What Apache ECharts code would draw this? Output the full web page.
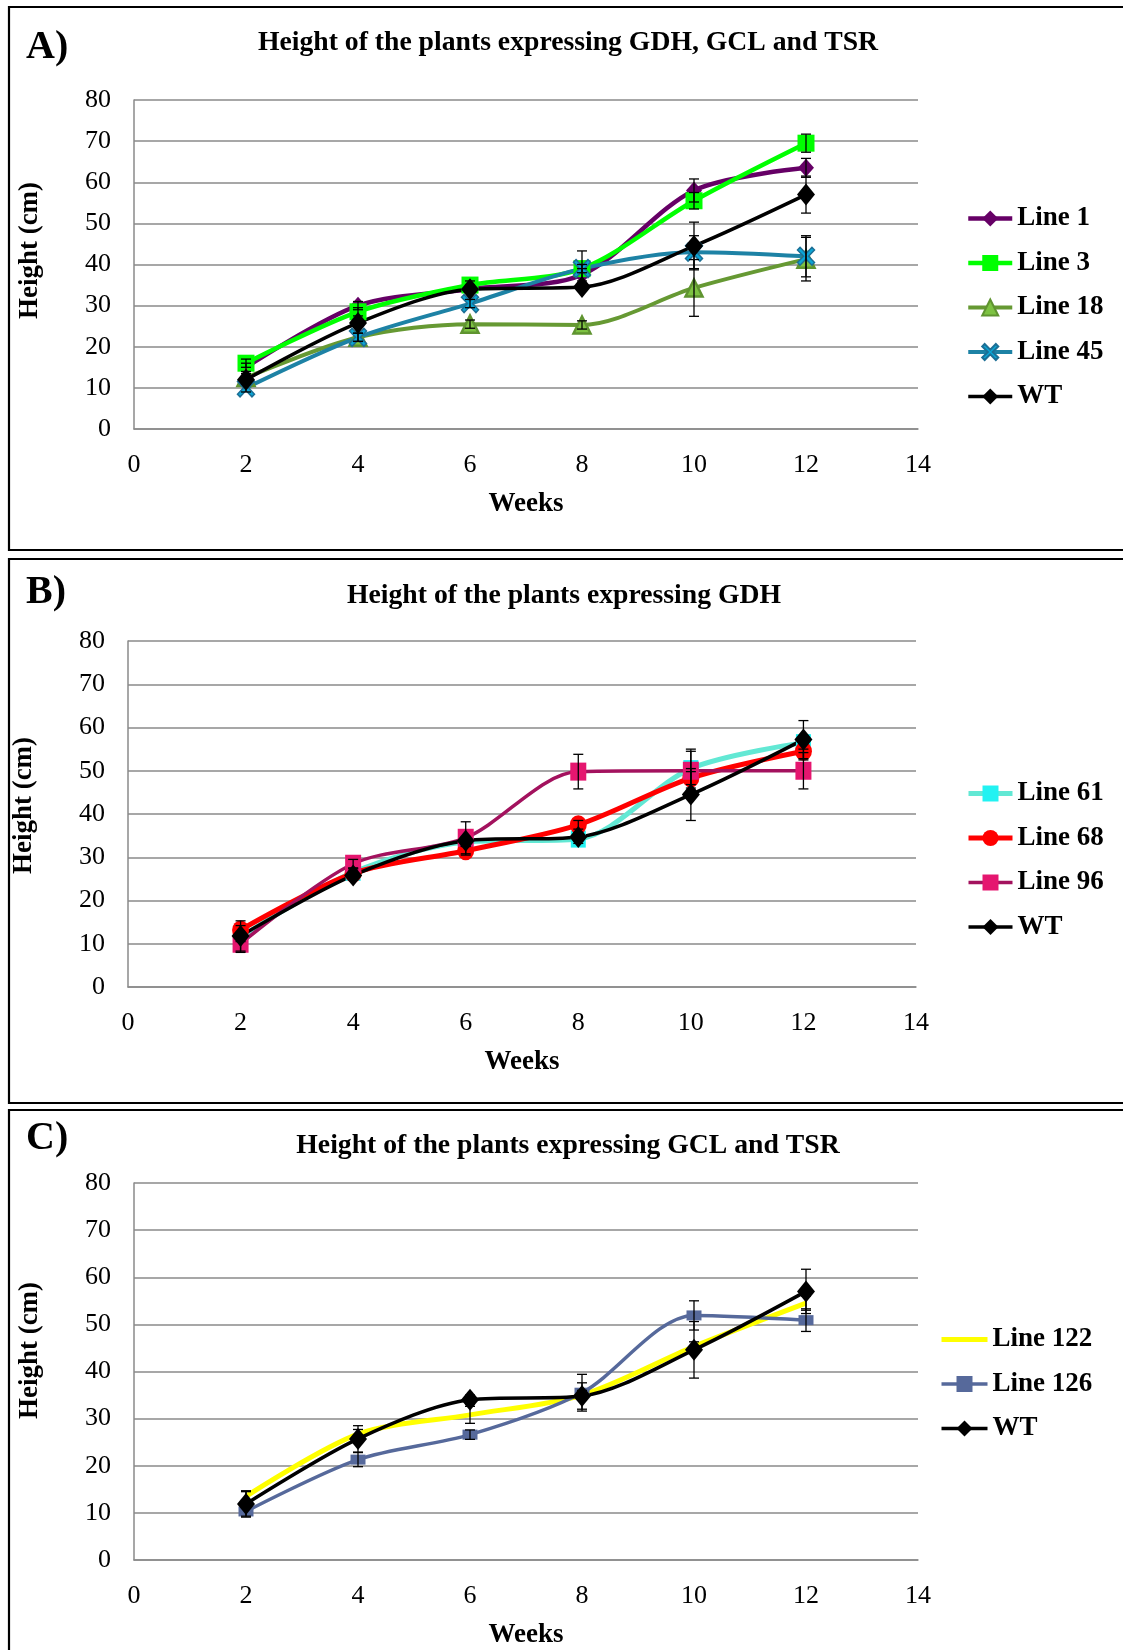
<!DOCTYPE html>
<html>
<head>
<meta charset="utf-8">
<script src="https://cdn.jsdelivr.net/npm/echarts@6/dist/echarts.min.js"></script>
<style>
  html, body { margin: 0; padding: 0; background: #fff; }
  #chart { width: 1123px; height: 1650px; }
</style>
</head>
<body>
<div id="chart"></div>
<script>
// Sampling weeks and axis ranges
const weeks = [2, 4, 6, 8, 10, 12];
const weekMin = 0, weekMax = 14, weekStep = 2;
const heightMin = 0, heightMax = 80, heightStep = 10;

// Panel A: GDH, GCL and TSR lines
const aLine1 = [15, 30, 34, 37.5, 58, 63.5];
const aLine1Err = [1, 1, 1, 1.5, 2.8, 2.3];
const aLine3 = [16, 28.5, 35, 39, 55.5, 69.5];
const aLine3Err = [1, 1, 1, 1, 2, 2.2];
const aLine18 = [12.5, 22.3, 25.5, 25.3, 34.3, 41.3];
const aLine18Err = [1, 1, 1, 1, 6.9, 5.3];
const aLine45 = [10, 22.3, 30.5, 39, 43, 42];
const aLine45Err = [1, 1, 1, 4.3, 4, 5];
const aWT = [12, 25.8, 34, 34.5, 44.5, 57];
const aWTErr = [1, 1, 1, 1, 5.8, 4.5];

// Panel B: GDH lines
const bLine61 = [11.5, 26.5, 33.5, 34.2, 50.5, 56.5];
const bLine61Err = [1, 1, 1, 1, 4.5, 1.5];
const bLine68 = [13.2, 26.3, 31.5, 37.5, 48.3, 54.5];
const bLine68Err = [1, 1, 1, 1, 1.5, 2];
const bLine96 = [10, 28.5, 34.5, 49.8, 50, 50];
const bLine96Err = [2, 1, 3.7, 4, 4.5, 4.2];
const bWT = [11.8, 25.8, 33.8, 34.7, 44.5, 57.2];
const bWTErr = [3.5, 1, 1, 1, 6, 4.4];

// Panel C: GCL and TSR lines
const cLine122 = [13.5, 26.7, 30.8, 35, 45.3, 54.5];
const cLine122Err = [1, 1, 1.8, 1, 1, 1.5];
const cLine126 = [10.3, 21.3, 26.6, 35.5, 51.9, 50.9];
const cLine126Err = [1, 1.5, 1, 3.9, 3.1, 2.4];
const cWT = [11.9, 25.7, 34, 34.8, 44.6, 57];
const cWTErr = [2.8, 2.8, 1, 2.8, 6, 4.7];

const panelLetters = ['A)', 'B)', 'C)'];
const panelTitles = [
  'Height of the plants expressing GDH, GCL and TSR',
  'Height of the plants expressing GDH',
  'Height of the plants expressing GCL and TSR'
];
const xAxisName = 'Weeks';
const yAxisName = 'Height (cm)';

const SERIF = '"Liberation Serif", "Times New Roman", serif';
// bold cross marker
const X_SHAPE = 'path://M3,0 L10,7 L17,0 L20,3 L13,10 L20,17 L17,20 L10,13 L3,20 L0,17 L7,10 L0,3 Z';
// flat bar marker
const BAR_SHAPE = 'path://M0,0 H16 V9 H0 Z';

function pairs(vals) { return weeks.map((w, i) => [w, vals[i]]); }
function errPairs(vals, errs) { return weeks.map((w, i) => [w, vals[i] - errs[i], vals[i] + errs[i]]); }

function lineSeries(name, gi, vals, opt) {
  return {
    type: 'line', name: name, xAxisIndex: gi, yAxisIndex: gi,
    data: pairs(vals), smooth: 0.3,
    symbol: opt.symbol, symbolSize: opt.size,
    lineStyle: { color: opt.line, width: opt.width || 4 },
    itemStyle: { color: opt.fill, borderColor: opt.border || opt.fill, borderWidth: opt.borderWidth || 0 },
    emphasis: { disabled: true },
    animation: false, z: 3
  };
}

function errorSeries(gi, vals, errs) {
  return {
    type: 'custom', xAxisIndex: gi, yAxisIndex: gi,
    data: errPairs(vals, errs),
    encode: { x: 0, y: [1, 2] },
    silent: true, animation: false, z: 6,
    renderItem: function (params, api) {
      const x = api.value(0);
      const lo = api.coord([x, api.value(1)]);
      const hi = api.coord([x, api.value(2)]);
      const cap = 5;
      const st = { stroke: '#000', lineWidth: 1.3 };
      return {
        type: 'group',
        children: [
          { type: 'line', shape: { x1: hi[0], y1: hi[1], x2: lo[0], y2: lo[1] }, style: st },
          { type: 'line', shape: { x1: hi[0] - cap, y1: hi[1], x2: hi[0] + cap, y2: hi[1] }, style: st },
          { type: 'line', shape: { x1: lo[0] - cap, y1: lo[1], x2: lo[0] + cap, y2: lo[1] }, style: st }
        ]
      };
    }
  };
}

const wtStyle = { symbol: 'diamond', size: [18, 22], line: '#000', fill: '#000', width: 3.5 };

// Plot rectangles of the three panels
const grids = [
  { left: 134, top: 100, width: 784, height: 329 },
  { left: 128, top: 641, width: 788, height: 346 },
  { left: 134, top: 1183, width: 784, height: 381 }
];
// shifts the rotated axis title along the axis
const yNamePad = [28, 17, 42];

const axisText = { color: '#000', fontFamily: SERIF, fontSize: 26 };
const nameText = { color: '#000', fontFamily: SERIF, fontSize: 27, fontWeight: 'bold' };

const xAxes = grids.map((g, i) => ({
  type: 'value', gridIndex: i, min: weekMin, max: weekMax, interval: weekStep,
  name: xAxisName, nameLocation: 'middle', nameGap: 62, nameTextStyle: nameText,
  axisLine: { show: true, lineStyle: { color: '#8a8a8a', width: 1.5 } },
  axisTick: { show: false },
  axisLabel: Object.assign({ margin: 23 }, axisText),
  splitLine: { show: false }
}));

const yAxes = grids.map((g, i) => ({
  type: 'value', gridIndex: i, min: heightMin, max: heightMax, interval: heightStep,
  name: yAxisName, nameLocation: 'middle', nameGap: 90, nameRotate: 90,
  nameTextStyle: Object.assign({ padding: [0, 0, 0, yNamePad[i]] }, nameText),
  axisLine: { show: true, lineStyle: { color: '#8a8a8a', width: 1.5 } },
  axisTick: { show: false },
  axisLabel: Object.assign({ margin: 23 }, axisText),
  splitLine: { show: true, lineStyle: { color: '#8a8a8a', width: 1.5 } }
}));

const series = [
  lineSeries('Line 1', 0, aLine1, { symbol: 'diamond', size: [16, 18], line: '#660066', fill: '#660066', width: 4.5 }),
  lineSeries('Line 3', 0, aLine3, { symbol: 'rect', size: [17, 17], line: '#00ff00', fill: '#00ff00', width: 4.5 }),
  lineSeries('Line 18', 0, aLine18, { symbol: 'triangle', size: [17, 17], line: '#669933', fill: '#7dc242', border: '#5f9430', borderWidth: 2.5 }),
  lineSeries('Line 45', 0, aLine45, { symbol: X_SHAPE, size: [17, 18], line: '#1d82a5', fill: '#0aa6d6', border: '#1d6f95', borderWidth: 1.5 }),
  lineSeries('WT', 0, aWT, wtStyle),
  errorSeries(0, aLine1, aLine1Err),
  errorSeries(0, aLine3, aLine3Err),
  errorSeries(0, aLine18, aLine18Err),
  errorSeries(0, aLine45, aLine45Err),
  errorSeries(0, aWT, aWTErr),

  lineSeries('Line 61', 1, bLine61, { symbol: 'rect', size: [15, 17], line: '#62e8d4', fill: '#22f2f2', width: 5 }),
  lineSeries('Line 68', 1, bLine68, { symbol: 'circle', size: [17, 19], line: '#ff0000', fill: '#ff0000', width: 5 }),
  lineSeries('Line 96', 1, bLine96, { symbol: 'rect', size: [16, 18], line: '#a3125e', fill: '#e5166f', width: 3.5 }),
  lineSeries('WT', 1, bWT, wtStyle),
  errorSeries(1, bLine61, bLine61Err),
  errorSeries(1, bLine68, bLine68Err),
  errorSeries(1, bLine96, bLine96Err),
  errorSeries(1, bWT, bWTErr),

  lineSeries('Line 122', 2, cLine122, { symbol: 'none', size: 0, line: '#ffff00', fill: '#ffff00', width: 5 }),
  lineSeries('Line 126', 2, cLine126, { symbol: BAR_SHAPE, size: [15, 10], line: '#56699b', fill: '#56699b', width: 3.5 }),
  lineSeries('WT', 2, cWT, wtStyle),
  errorSeries(2, cLine122, cLine122Err),
  errorSeries(2, cLine126, cLine126Err),
  errorSeries(2, cWT, cWTErr)
];

const legendText = { color: '#000', fontFamily: SERIF, fontSize: 27, fontWeight: 'bold', lineHeight: 27 };
function legendAt(names, left, top, width) {
  return {
    data: names, orient: 'vertical', left: left, top: top,
    itemWidth: width, itemHeight: 20, itemGap: 17.5,
    lineStyle: { width: 'inherit' },
    textStyle: legendText, selectedMode: false
  };
}
const legends = [
  legendAt(['Line 1', 'Line 3', 'Line 18', 'Line 45', 'WT'], 961, 200, 44),
  legendAt(['Line 61', 'Line 68', 'Line 96', 'WT'], 961, 775, 44),
  legendAt([{ name: 'Line 122', itemStyle: { opacity: 0 } }, 'Line 126', 'WT'], 934, 1321, 46)
];

// Panel frames, letters and headings
const frames = [
  { y: 7, h: 543 },
  { y: 559, h: 544 },
  { y: 1110, h: 560 }
];
const letterY = [48, 593, 1139];
const headingPos = [[568, 43], [564, 596], [568, 1146]];
const graphics = [];
frames.forEach((f, i) => {
  graphics.push({
    type: 'rect', shape: { x: 9, y: f.y, width: 1130, height: f.h },
    style: { fill: 'none', stroke: '#000', lineWidth: 2.2 }, silent: true, z: 0
  });
  graphics.push({
    type: 'text', x: 26, y: letterY[i],
    style: { text: panelLetters[i], fill: '#000', font: 'bold 40px ' + SERIF, textVerticalAlign: 'middle' }, z: 5
  });
  graphics.push({
    type: 'text', x: headingPos[i][0], y: headingPos[i][1],
    style: { text: panelTitles[i], fill: '#000', font: 'bold 27.7px ' + SERIF, textAlign: 'center', textVerticalAlign: 'middle' }, z: 5
  });
});

const chart = echarts.init(document.getElementById('chart'), null, { renderer: 'canvas' });
chart.setOption({
  backgroundColor: '#fff',
  animation: false,
  grid: grids,
  xAxis: xAxes,
  yAxis: yAxes,
  legend: legends,
  series: series,
  graphic: graphics
});
</script>
</body>
</html>
